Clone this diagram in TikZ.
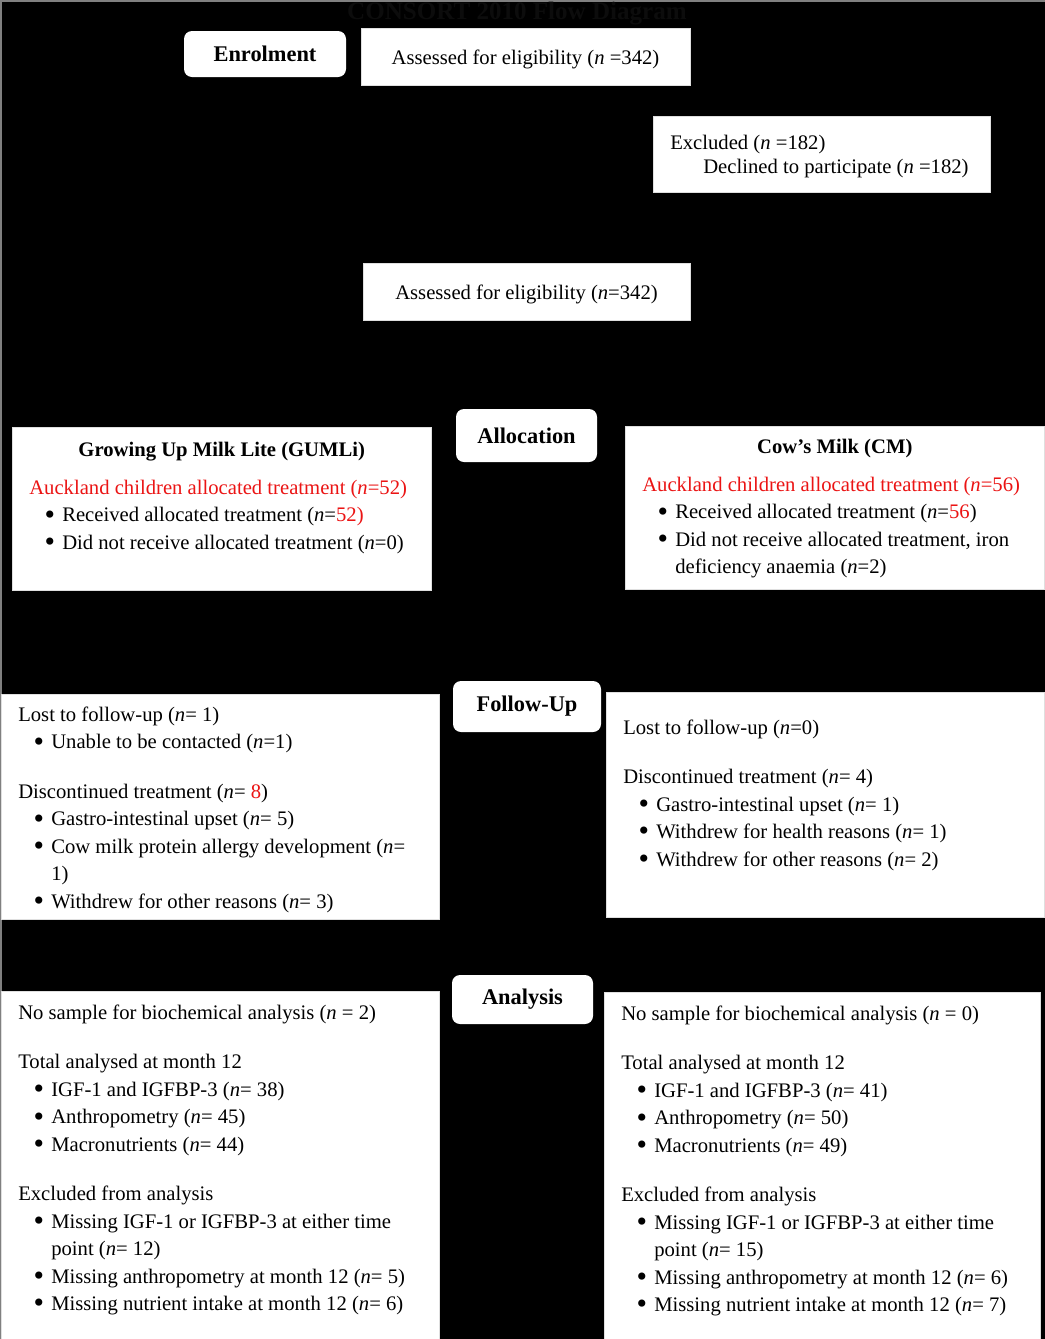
\documentclass[tikz,border=0pt]{standalone}
\usepackage{fontspec}
\setmainfont{Liberation Serif}
\usetikzlibrary{positioning}
\definecolor{consortred}{RGB}{235,20,20}
\definecolor{titlegray}{RGB}{12,12,12}
\definecolor{edgegray}{RGB}{128,128,128}

\newcommand\mainsize{\fontsize{15.5}{20.6}\selectfont}
\newcommand\stagesize{\fontsize{16.8}{20}\selectfont\bfseries}
% bullet line with hanging indent
\newcommand\itm[1]{\par\hangindent=24.75pt\hangafter=1\noindent\hbox to 24.75pt{\hskip 11.5pt\raisebox{-1.8pt}{\scalebox{1.45}{\textbullet}}\hfil}#1}
\newcommand\gap{\par\vspace{16.5pt}}
% width, height, top offset, text
\newcommand\pbox[4]{\parbox[t][#2][t]{#1}{\mainsize\raggedright\leftskip=12.75pt\vspace*{#3}\strut #4\par}}

\begin{document}
\begin{tikzpicture}[%
    x = 0.75pt,
    y = -0.75pt,
    stage/.style = {%
      fill = white,
      rounded corners = 6pt,
      inner sep = 0pt,
      font = \stagesize },
    plain/.style = {%
      fill = white,
      draw = gray!25,
      inner sep = 0pt,
      text height = 11.5pt,
      text depth = 0pt,
      font = \mainsize },
    panel/.style = {%
      fill = white,
      draw = gray!25,
      inner sep = 0pt,
      anchor = north west }
  ]

  \useasboundingbox (0,0) rectangle (1045,1339);
  \fill[black] (0,0) rectangle (1045,1339);
  \draw[edgegray, line width=1.5] (0.5,1339) -- (0.5,0.5) -- (1045,0.5);

  \node[font=\fontsize{18.8}{22}\selectfont\bfseries, text=titlegray] (title) at (517,14) {CONSORT 2010 Flow Diagram};

  % enrolment
  \node[stage, minimum width=121.5pt, minimum height=34.5pt] (enrol) at (265,54) {Enrolment};
  \node[plain, minimum width=246.75pt, minimum height=42.75pt] (assessA) at (525.5,56.5) {Assessed for eligibility (\emph{n} =342)};
  \node[panel] (excl) at (653,116) {\pbox{252.75pt}{57pt}{10.3pt}{Excluded (\emph{n} =182)\par\baselineskip=18pt\hspace*{24.75pt}Declined to participate (\emph{n} =182)}};
  \node[plain, minimum width=245.25pt, minimum height=42.75pt] (assessB) at (526.5,291.5) {Assessed for eligibility (\emph{n}=342)};

  % allocation
  \node[stage, minimum width=105.75pt, minimum height=39.75pt] (alloc) at (526.5,435.5) {Allocation};
  \node[panel] (gumli) at (12,427) {\pbox{314.25pt}{122.25pt}{7.3pt}{%
    {\centering\bfseries Growing Up Milk Lite (GUMLi)\par}
    \vspace{8pt}\noindent\textcolor{consortred}{Auckland children allocated treatment (\emph{n}=52)}
    \itm{Received allocated treatment (\emph{n}=\textcolor{consortred}{52)}}
    \itm{Did not receive allocated treatment (\emph{n}=0)}}};
  \node[panel] (cm) at (625,426) {\pbox{314.25pt}{122.25pt}{5.8pt}{%
    {\centering\bfseries Cow’s Milk (CM)\par}
    \vspace{8pt}\noindent\textcolor{consortred}{Auckland children allocated treatment (\emph{n}=56)}
    \itm{Received allocated treatment (\emph{n}=\textcolor{consortred}{56})}
    \itm{Did not receive allocated treatment, iron\newline deficiency anaemia (\emph{n}=2)}}};

  % follow-up
  \node[stage, minimum width=111pt, minimum height=38.25pt] (follow) at (527,706.5) {Follow-Up};
  \node[panel] (followL) at (1,694) {\pbox{328.5pt}{168.75pt}{5.8pt}{%
    Lost to follow-up (\emph{n}= 1)
    \itm{Unable to be contacted (\emph{n}=1)}
    \gap Discontinued treatment (\emph{n}= \textcolor{consortred}{8})
    \itm{Gastro-intestinal upset (\emph{n}= 5)}
    \itm{Cow milk protein allergy development (\emph{n}=\newline 1)}
    \itm{Withdrew for other reasons (\emph{n}= 3)}}};
  \node[panel] (followR) at (606,692) {\pbox{328.5pt}{168.75pt}{17pt}{%
    Lost to follow-up (\emph{n}=0)
    \gap Discontinued treatment (\emph{n}= 4)
    \itm{Gastro-intestinal upset (\emph{n}= 1)}
    \itm{Withdrew for health reasons (\emph{n}= 1)}
    \itm{Withdrew for other reasons (\emph{n}= 2)}}};

  % analysis
  \node[stage, minimum width=105.75pt, minimum height=36.75pt] (analysis) at (522.5,999.5) {Analysis};
  \node[panel] (analysisL) at (1,991) {\pbox{328.5pt}{261pt}{6.6pt}{%
    No sample for biochemical analysis (\emph{n} = 2)
    \gap Total analysed at month 12
    \itm{IGF-1 and IGFBP-3 (\emph{n}= 38)}
    \itm{Anthropometry (\emph{n}= 45)}
    \itm{Macronutrients (\emph{n}= 44)}
    \gap Excluded from analysis
    \itm{Missing IGF-1 or IGFBP-3 at either time\newline point (\emph{n}= 12)}
    \itm{Missing anthropometry at month 12 (\emph{n}= 5)}
    \itm{Missing nutrient intake at month 12 (\emph{n}= 6)}}};
  \node[panel] (analysisR) at (604,992) {\pbox{327pt}{260.25pt}{6.6pt}{%
    No sample for biochemical analysis (\emph{n} = 0)
    \gap Total analysed at month 12
    \itm{IGF-1 and IGFBP-3 (\emph{n}= 41)}
    \itm{Anthropometry (\emph{n}= 50)}
    \itm{Macronutrients (\emph{n}= 49)}
    \gap Excluded from analysis
    \itm{Missing IGF-1 or IGFBP-3 at either time\newline point (\emph{n}= 15)}
    \itm{Missing anthropometry at month 12 (\emph{n}= 6)}
    \itm{Missing nutrient intake at month 12 (\emph{n}= 7)}}};

\end{tikzpicture}
\end{document}
